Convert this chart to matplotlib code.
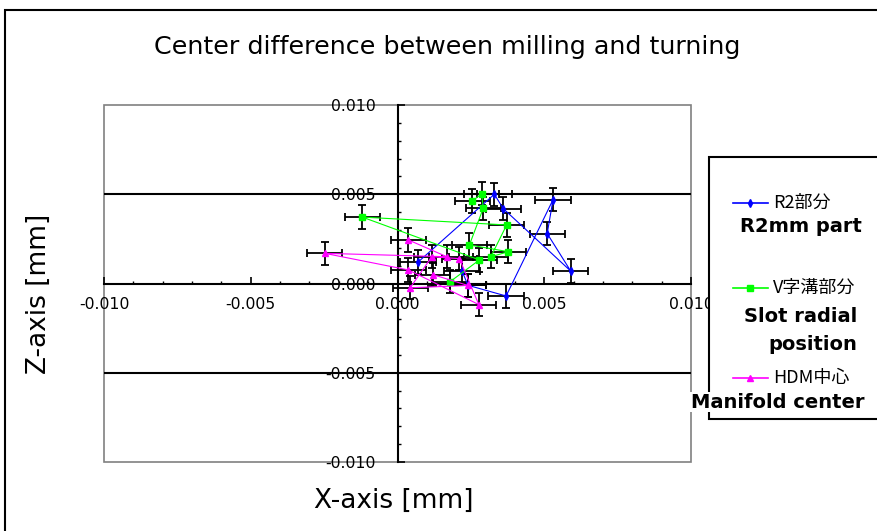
import matplotlib
matplotlib.use("Agg")
import matplotlib.pyplot as plt
from matplotlib.patches import Rectangle
from matplotlib.lines import Line2D
from matplotlib.ticker import MultipleLocator, FormatStrFormatter

# ---------------- data ----------------
title = "Center difference between milling and turning"
xlabel = "X-axis [mm]"
ylabel = "Z-axis [mm]"

series_names_jp = ["R2部分", "V字溝部分", "HDM中心"]
series_names_en = ["R2mm part", "Slot radial\nposition", "Manifold center"]

r2_x = [0.0007, 0.0033, 0.0036, 0.0059, 0.0051, 0.0053, 0.0037, 0.0024, 0.0022]
r2_z = [0.0012, 0.0050, 0.0042, 0.0007, 0.0028, 0.0047, -0.0007, -0.0001, 0.0007]

slot_x = [0.00255, 0.00287, 0.00292, 0.00245, 0.00378, 0.00318, 0.00372, -0.00120, 0.00279, 0.00179]
slot_z = [0.00462, 0.00503, 0.00421, 0.00216, 0.00178, 0.00150, 0.00328, 0.00372, 0.00132, 0.00010]

hdm_x = [0.00037, 0.00168, -0.00248, 0.00037, 0.00277, 0.00211, 0.00117, 0.00043, 0.00240, 0.00120]
hdm_z = [0.00244, 0.00150, 0.00169, 0.00076, -0.00118, 0.00139, 0.00150, -0.00024, -0.00011, 0.00050]

x_err = 0.0006
z_err = 0.00065

axis_limits = (-0.010, 0.010)
major_step = 0.005
minor_step = 0.001
grid_levels = [-0.005, 0.005]

colors = ["#0000FF", "#00FF00", "#FF00FF"]
markers = ["d", "s", "^"]

# ---------------- figure ----------------
W, H = 878, 531
fig = plt.figure(figsize=(W / 100, H / 100), dpi=100)
fig.patch.set_facecolor("white")

def fx(px):
    return px / W

def fy(py):
    return 1 - py / H

# outer border
fig.add_artist(Rectangle((fx(5), -0.1), 1.2, fy(10) + 0.1, transform=fig.transFigure,
                         fill=False, edgecolor="black", lw=1.5))

L, R, T, B = 104, 691, 105, 462
ax = fig.add_axes([fx(L), fy(B), fx(R) - fx(L), fy(T) - fy(B)])
ax.set_xlim(*axis_limits)
ax.set_ylim(*axis_limits)

for s in ["top", "right"]:
    ax.spines[s].set_visible(False)
ax.spines["left"].set_position(("data", 0))
ax.spines["bottom"].set_position(("data", 0))
for s in ["left", "bottom"]:
    ax.spines[s].set_linewidth(1.5)
    ax.spines[s].set_color("black")

ax.add_patch(Rectangle((0, 0), 1, 1, transform=ax.transAxes, fill=False,
                       edgecolor="#808080", lw=1.2, clip_on=False, zorder=0))
for g in grid_levels:
    ax.axhline(g, color="black", lw=1.5, zorder=0.5)

ax.xaxis.set_major_locator(MultipleLocator(major_step))
ax.yaxis.set_major_locator(MultipleLocator(major_step))
ax.xaxis.set_minor_locator(MultipleLocator(minor_step))
ax.yaxis.set_minor_locator(MultipleLocator(minor_step))
ax.xaxis.set_major_formatter(FormatStrFormatter("%.3f"))
ax.yaxis.set_major_formatter(FormatStrFormatter("%.3f"))
ax.tick_params(axis="both", which="major", direction="in", length=5, width=1.2,
               labelsize=11.3, colors="black")
ax.tick_params(axis="both", which="minor", direction="in", length=2.5, width=1.0)
ax.tick_params(axis="x", which="major", pad=10)
ax.tick_params(axis="y", which="major", pad=16)

# error bars then series
for xs, zs in zip([r2_x, slot_x, hdm_x], [r2_z, slot_z, hdm_z]):
    ax.errorbar(xs, zs, xerr=x_err, yerr=z_err, fmt="none", ecolor="black",
                elinewidth=1.3, capsize=2.6, capthick=1.3, zorder=2)
for xs, zs, c, m, lab in zip([r2_x, slot_x, hdm_x], [r2_z, slot_z, hdm_z],
                             colors, markers, series_names_jp):
    ms = 4 if m == "d" else 5
    ax.plot(xs, zs, color=c, lw=0.8, marker=m, markersize=ms, markeredgecolor=c,
            markerfacecolor=c, zorder=3, label=lab)

# title and axis labels
fig.text(fx(447), fy(47), title, ha="center", va="center", fontsize=18.3,
         family="DejaVu Sans")
fig.text(fx(394), fy(501), xlabel, ha="center", va="center", fontsize=19)
fig.text(fx(39), fy(294), ylabel, ha="center", va="center", fontsize=19, rotation=90)

# legend box
fig.add_artist(Rectangle((fx(709), fy(419)), 1.0, fy(157) - fy(419), transform=fig.transFigure,
                         fill=True, facecolor="white", edgecolor="black", lw=1.5, zorder=5))
jp_font = ["Noto Sans CJK JP", "DejaVu Sans"]
entry_y = [203, 288, 378]
for c, m, name, yy in zip(colors, markers, series_names_jp, entry_y):
    fig.add_artist(Line2D([fx(733), fx(768)], [fy(yy), fy(yy)], color=c, lw=1.2,
                          transform=fig.transFigure, zorder=6))
    ms = 4 if m == "d" else 5
    fig.add_artist(Line2D([fx(750.5)], [fy(yy)], color=c, marker=m, markersize=ms,
                          transform=fig.transFigure, zorder=6))
    fig.text(fx(773), fy(yy), name, ha="left", va="center", fontsize=13,
             family=jp_font, zorder=6)

en_pos = [(801, 226), (801, 316), (813, 345), (778, 402)]
en_texts = [series_names_en[0]] + series_names_en[1].split("\n") + [series_names_en[2]]
for (px, py), t in zip(en_pos, en_texts):
    fig.text(fx(px), fy(py), t, ha="center", va="center", fontsize=14,
             fontweight="bold", zorder=7,
             bbox=dict(facecolor="white", edgecolor="none", pad=0.5))

fig.savefig("out.png", dpi=100, facecolor="white")
